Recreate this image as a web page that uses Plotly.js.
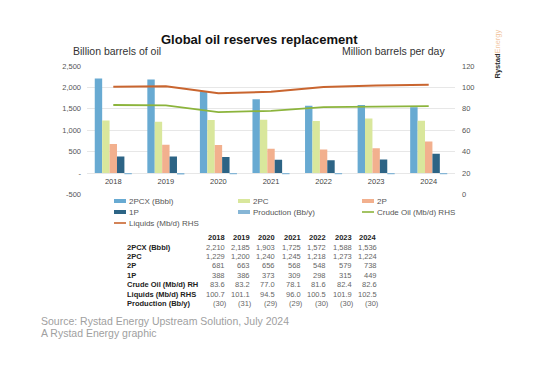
<!DOCTYPE html>
<html>
<head>
<meta charset="utf-8">
<script src="https://cdn.plot.ly/plotly-3.0.1.min.js"></script>
<style>html,body{margin:0;padding:0;background:#fff;}#chart{width:556px;height:382px;}</style>
</head>
<body>
<div id="chart"></div>
<script>
// ---- data ----
const years = ['2018', '2019', '2020', '2021', '2022', '2023', '2024'];
const pcx2 = [2210, 2185, 1903, 1725, 1572, 1588, 1536];
const pc2 = [1229, 1200, 1240, 1245, 1218, 1273, 1224];
const p2 = [681, 663, 656, 568, 548, 579, 738];
const p1 = [388, 386, 373, 309, 298, 315, 449];
const production = [-30, -31, -29, -29, -30, -30, -30];
const crudeOil = [83.6, 83.2, 77.0, 78.1, 81.6, 82.4, 82.6];
const liquids = [100.7, 101.1, 94.5, 96.0, 100.5, 101.9, 102.5];

const seriesNames = ['2PCX (Bbbl)', '2PC', '2P', '1P', 'Production (Bb/y)', 'Crude Oil (Mb/d) RHS', 'Liquids (Mb/d) RHS'];
const tableLabels = ['2PCX (Bbbl)', '2PC', '2P', '1P', 'Crude Oil (Mb/d) RH', 'Liquids (Mb/d) RHS', 'Production (Bb/y)'];
const leftTickVals = [-500, 0, 500, 1000, 1500, 2000, 2500];
const leftTickText = ['-500', '-', '500', '1,000', '1,500', '2,000', '2,500'];

// ---- styles ----
const W = 556, H = 382;
const FONT = 'Liberation Sans, Arial, sans-serif';
const colors = ['#68AAD2', '#D9E79C', '#F2B08E', '#2D6485', '#86B6D6', '#8CB43C', '#C9652F'];
const px = x => x / W;
const py = y => 1 - y / H;

const plotL = 87, plotR = 455, plotT = 66, plotB = 194.5;
const zeroY = plotB - (500 / 3000) * (plotB - plotT);

const traces = [];
const barData = [pcx2, pc2, p2, p1, production];
barData.forEach((d, i) => {
  traces.push({
    type: 'bar', x: years, y: d, name: seriesNames[i],
    marker: {color: colors[i], line: {width: 0}},
    xaxis: 'x', yaxis: 'y', showlegend: false, hoverinfo: 'skip'
  });
});
traces.push({type: 'scatter', mode: 'lines', x: years, y: crudeOil, name: seriesNames[5],
  line: {color: colors[5], width: 1.8}, xaxis: 'x', yaxis: 'y2', showlegend: false, hoverinfo: 'skip'});
traces.push({type: 'scatter', mode: 'lines', x: years, y: liquids, name: seriesNames[6],
  line: {color: colors[6], width: 2}, xaxis: 'x', yaxis: 'y2', showlegend: false, hoverinfo: 'skip'});

const annotations = [];
const shapes = [];
function txt(x, y, text, opts) {
  annotations.push(Object.assign({
    xref: 'paper', yref: 'paper', x: px(x), y: py(y), text: text, showarrow: false,
    xanchor: 'left', yanchor: 'middle', borderpad: 0,
    font: {family: FONT, size: 8, color: '#555'}
  }, opts || {}));
}

// titles
txt(259, 39, '<b>Global oil reserves replacement</b>', {xanchor: 'center', font: {family: FONT, size: 13, color: '#111'}});
txt(72, 50.5, 'Billion barrels of oil', {font: {family: FONT, size: 10.5, color: '#333'}});
txt(446, 50.5, 'Million barrels per day', {xanchor: 'right', font: {family: FONT, size: 10.5, color: '#333'}});
txt(497, 54.5, '<b>Rystad</b><span style="color:#F2C7A3">Energy</span>', {xanchor: 'center', textangle: -90, font: {family: FONT, size: 7.5, color: '#2b2b2b'}});

// legend (manual, 3 columns)
const legX = [114, 238, 362], legY = [201, 212, 223];
seriesNames.forEach((n, i) => {
  const c = i % 3, r = Math.floor(i / 3);
  const x0 = legX[c], y0 = legY[r];
  if (i < 5) {
    shapes.push({type: 'rect', xref: 'paper', yref: 'paper', x0: px(x0), x1: px(x0 + 12), y0: py(y0 - 2), y1: py(y0 + 2),
      fillcolor: colors[i], line: {width: 0}});
  } else {
    shapes.push({type: 'line', xref: 'paper', yref: 'paper', x0: px(x0), x1: px(x0 + 12), y0: py(y0), y1: py(y0),
      line: {color: colors[i], width: 1.6}});
  }
  txt(x0 + 13.5, y0, n, {font: {family: FONT, size: 8, color: '#555'}});
});

// table
const colC = years.map((y, i) => 216 + 25.4 * i);
const headY = 237.5, rowY0 = 247, rowDY = 9.4;
years.forEach((y, i) => txt(colC[i], headY, '<b>' + y + '</b>', {xanchor: 'center', font: {family: FONT, size: 7.5, color: '#222'}}));
const fmtInt = v => v.toLocaleString('en-US');
const fmtDec = v => v.toFixed(1);
const fmtNeg = v => '(' + Math.abs(v) + ')';
const tableRows = [
  pcx2.map(fmtInt), pc2.map(fmtInt), p2.map(fmtInt), p1.map(fmtInt),
  crudeOil.map(fmtDec), liquids.map(fmtDec), production.map(fmtNeg)
];
tableLabels.forEach((lab, r) => {
  const yy = rowY0 + rowDY * r;
  txt(126, yy, '<b>' + lab + '</b>', {font: {family: FONT, size: 7.5, color: '#222'}});
  tableRows[r].forEach((v, i) => {
    const isParen = v.charAt(0) === '(';
    txt(colC[i] + 12 - (isParen ? 0 : 2.5), yy, v, {xanchor: 'right', font: {family: FONT, size: 7.5, color: '#666'}});
  });
});

// source
txt(40, 321, 'Source: Rystad Energy Upstream Solution, July 2024', {font: {family: FONT, size: 10.5, color: '#a0a0a0'}});
txt(40, 333, 'A Rystad Energy graphic', {font: {family: FONT, size: 10.5, color: '#a0a0a0'}});

const layout = {
  width: W, height: H,
  margin: {l: 0, r: 0, t: 0, b: 0, pad: 0},
  paper_bgcolor: '#fff', plot_bgcolor: '#fff',
  showlegend: false,
  barmode: 'group', bargap: 0.295, bargroupgap: 0,
  font: {family: FONT, size: 7.5, color: '#555'},
  xaxis: {
    type: 'category', domain: [px(plotL), px(plotR)], anchor: 'free', position: py(zeroY),
    showgrid: false, zeroline: false, showline: false, ticks: '', ticklabelstandoff: 2,
    tickfont: {family: FONT, size: 7.5, color: '#444'}, fixedrange: true
  },
  yaxis: {
    domain: [py(plotB), py(plotT)], range: [-500, 2500],
    tickvals: leftTickVals, ticktext: leftTickText, ticklabelstandoff: 5,
    showgrid: true, gridcolor: '#e7e7e7', gridwidth: 1, zeroline: false, showline: false, ticks: '',
    tickfont: {family: FONT, size: 7.5, color: '#555'}, fixedrange: true
  },
  yaxis2: {
    overlaying: 'y', side: 'right', anchor: 'x', range: [0, 120], dtick: 20, ticklabelstandoff: 6,
    showgrid: false, zeroline: false, showline: false, ticks: '',
    tickfont: {family: FONT, size: 7.5, color: '#555'}, fixedrange: true
  },
  annotations: annotations,
  shapes: shapes
};

Plotly.newPlot('chart', traces, layout, {staticPlot: true, displayModeBar: false});
</script>
</body>
</html>
